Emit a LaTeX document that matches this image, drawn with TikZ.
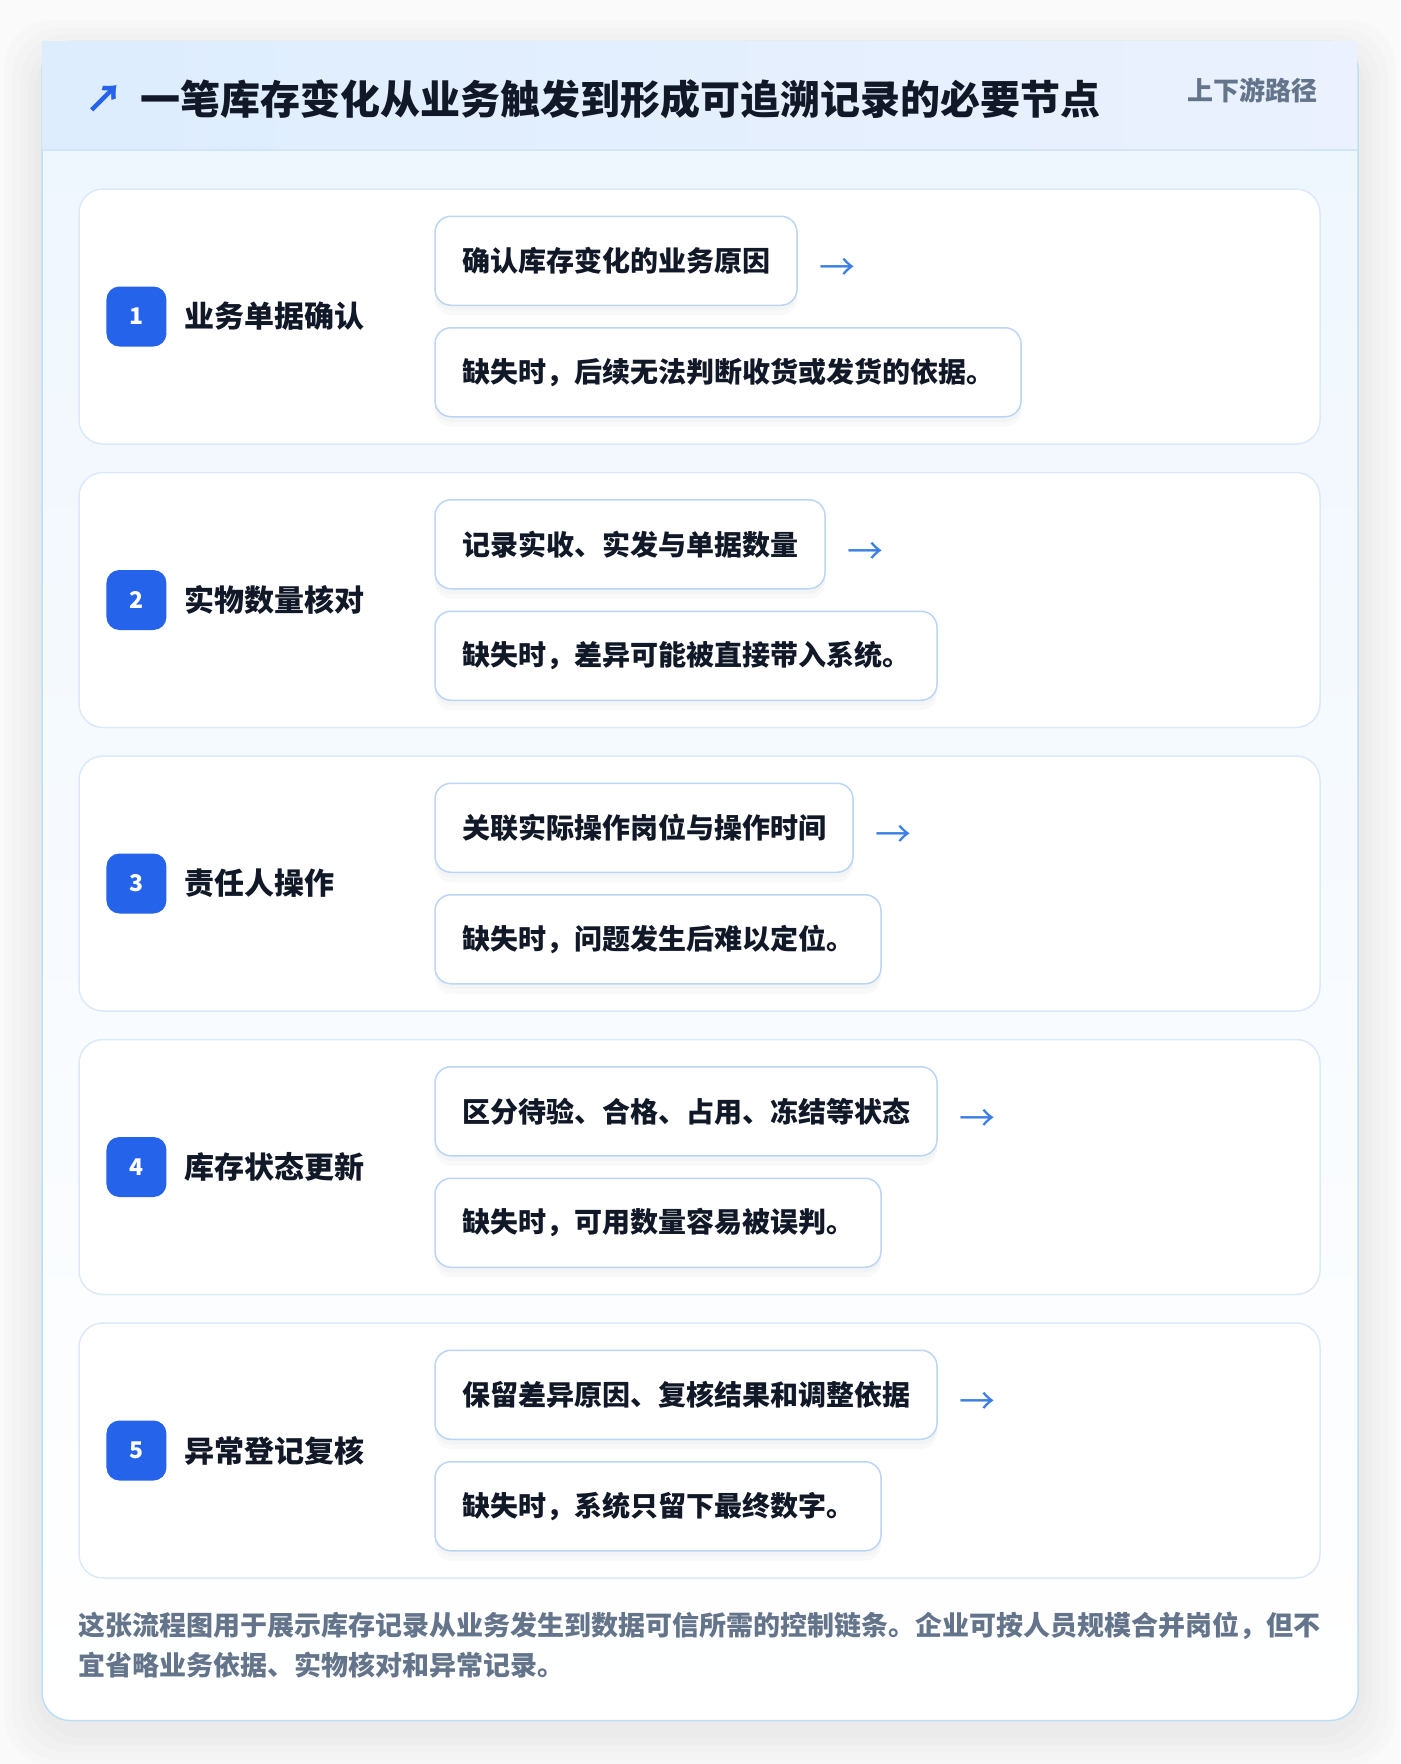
\documentclass[tikz,border=0pt]{standalone}
\usepackage{fontspec}
\setmainfont{Noto Sans CJK SC}
\usetikzlibrary{positioning}

\definecolor{pagebg}{HTML}{FAFAFB}
\definecolor{shade}{HTML}{1E293B}
\definecolor{framebd}{HTML}{BCDFF5}
\definecolor{bodytop}{HTML}{EEF6FE}
\definecolor{headleft}{HTML}{DDEDFE}
\definecolor{headright}{HTML}{EBF1FE}
\definecolor{headrule}{HTML}{D5E5F8}
\definecolor{inkdark}{HTML}{111827}
\definecolor{slate}{HTML}{64748B}
\definecolor{badgeblue}{HTML}{2563EB}
\definecolor{arrowblue}{HTML}{3B7FE6}
\definecolor{rowbd}{HTML}{DCE9F9}
\definecolor{boxbd}{HTML}{BBD5F5}

\begin{document}
\begin{tikzpicture}[
    x=1pt, y=-1pt,
    frame/.style={rectangle, draw=framebd, line width=1.5pt, rounded corners=28pt, top color=bodytop, bottom color=white,
        minimum width=1316pt, minimum height=1679pt},
    halo/.style={fill=shade, opacity=0.012, rounded corners=48pt},
    header/.style={rectangle, left color=headleft, right color=headright, minimum width=1315pt, minimum height=108pt, inner sep=0pt},
    title/.style={font=\bfseries\fontsize{40}{48}\selectfont, text=inkdark, inner sep=0pt},
    icon/.style={font=\bfseries\fontsize{38}{44}\selectfont, text=badgeblue, inner sep=0pt},
    tag/.style={font=\bfseries\fontsize{26}{32}\selectfont, text=slate, inner sep=0pt},
    rowcard/.style={rectangle, draw=rowbd, line width=1.5pt, fill=white, rounded corners=24pt, minimum width=1241pt, minimum height=255pt},
    badge/.style={rectangle, fill=badgeblue, rounded corners=13pt, minimum size=60pt, inner sep=0pt, text=white, font=\bfseries\fontsize{23}{26}\selectfont},
    steplabel/.style={font=\bfseries\fontsize{30}{36}\selectfont, text=inkdark, inner sep=0pt},
    infobox/.style={rectangle, draw=boxbd, line width=1.5pt, fill=white, rounded corners=16pt, minimum height=89pt, inner xsep=27pt, inner ysep=0pt,
        font=\bfseries\fontsize{28}{34}\selectfont, text=inkdark,
        preaction={fill=shade, opacity=0.025, transform canvas={yshift=-10pt}},
        preaction={fill=shade, opacity=0.025, transform canvas={yshift=-5pt}}},
    flowarrow/.style={font=\fontsize{36}{40}\selectfont, text=arrowblue, inner sep=0pt, yshift=-9pt, draw=arrowblue, draw opacity=0, text opacity=1},
    note/.style={font=\bfseries\fontsize{27}{40}\selectfont, text=slate, inner sep=0pt, align=left},
    node distance=27pt
]
\useasboundingbox (0,0) rectangle (1400,1764);
\fill[pagebg] (0,0) rectangle (1400,1764);

% Soft shadow under the card
\fill[halo] (4,20) rectangle (1396,1764);
\fill[halo] (12,28) rectangle (1388,1760);
\fill[halo] (20,34) rectangle (1380,1752);
\fill[halo] (28,40) rectangle (1372,1745);
\fill[halo] (34,44) rectangle (1366,1738);

% Card and header
\node[frame] (frame) at (700,881) {};
\node[header, anchor=north west] (head) at ([xshift=0.75pt, yshift=-1pt]frame.north west) {};
\draw[headrule, line width=1.5pt] (head.south west) -- (head.south east);
\node[title, anchor=west] (title) at (140,99) {一笔库存变化从业务触发到形成可追溯记录的必要节点};
\node[icon, left=16pt of title] (icon) {↗};
\node[tag, anchor=east] (tag) at (1318,90) {上下游路径};

% Step 1
\node[rowcard] (row1) at (699.5,316.5) {};
\node[badge, right=28pt of row1.west] (num1) {1};
\node[steplabel, right=18pt of num1] (name1) {业务单据确认};
\node[infobox, anchor=south west] (act1) at ([xshift=356pt, yshift=10.5pt]row1.west) {确认库存变化的业务原因};
\node[flowarrow, right=22pt of act1] (go1) {→};
\node[infobox, anchor=north west] (risk1) at ([xshift=356pt, yshift=-10.5pt]row1.west) {缺失时，后续无法判断收货或发货的依据。};

% Step 2
\node[rowcard, below=of row1] (row2) {};
\node[badge, right=28pt of row2.west] (num2) {2};
\node[steplabel, right=18pt of num2] (name2) {实物数量核对};
\node[infobox, anchor=south west] (act2) at ([xshift=356pt, yshift=10.5pt]row2.west) {记录实收、实发与单据数量};
\node[flowarrow, right=22pt of act2] (go2) {→};
\node[infobox, anchor=north west] (risk2) at ([xshift=356pt, yshift=-10.5pt]row2.west) {缺失时，差异可能被直接带入系统。};

% Step 3
\node[rowcard, below=of row2] (row3) {};
\node[badge, right=28pt of row3.west] (num3) {3};
\node[steplabel, right=18pt of num3] (name3) {责任人操作};
\node[infobox, anchor=south west] (act3) at ([xshift=356pt, yshift=10.5pt]row3.west) {关联实际操作岗位与操作时间};
\node[flowarrow, right=22pt of act3] (go3) {→};
\node[infobox, anchor=north west] (risk3) at ([xshift=356pt, yshift=-10.5pt]row3.west) {缺失时，问题发生后难以定位。};

% Step 4
\node[rowcard, below=of row3] (row4) {};
\node[badge, right=28pt of row4.west] (num4) {4};
\node[steplabel, right=18pt of num4] (name4) {库存状态更新};
\node[infobox, anchor=south west] (act4) at ([xshift=356pt, yshift=10.5pt]row4.west) {区分待验、合格、占用、冻结等状态};
\node[flowarrow, right=22pt of act4] (go4) {→};
\node[infobox, anchor=north west] (risk4) at ([xshift=356pt, yshift=-10.5pt]row4.west) {缺失时，可用数量容易被误判。};

% Step 5
\node[rowcard, below=of row4] (row5) {};
\node[badge, right=28pt of row5.west] (num5) {5};
\node[steplabel, right=18pt of num5] (name5) {异常登记复核};
\node[infobox, anchor=south west] (act5) at ([xshift=356pt, yshift=10.5pt]row5.west) {保留差异原因、复核结果和调整依据};
\node[flowarrow, right=22pt of act5] (go5) {→};
\node[infobox, anchor=north west] (risk5) at ([xshift=356pt, yshift=-10.5pt]row5.west) {缺失时，系统只留下最终数字。};

% Footer note
\node[note, anchor=north west] (note) at ([yshift=-33pt]row5.south west)
    {这张流程图用于展示库存记录从业务发生到数据可信所需的控制链条。企业可按人员规模合并岗位，但不\\宜省略业务依据、实物核对和异常记录。};

\end{tikzpicture}
\end{document}
